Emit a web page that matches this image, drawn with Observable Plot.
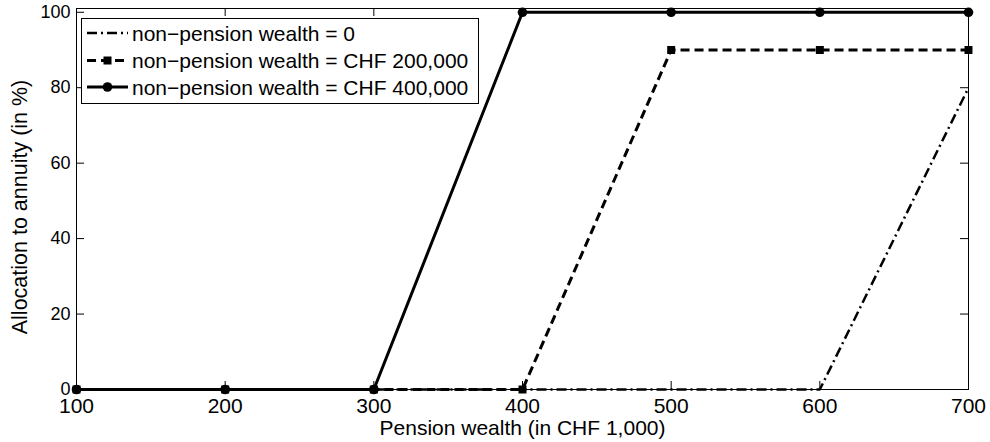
<!DOCTYPE html>
<html><head><meta charset="utf-8">
<script src="https://cdn.jsdelivr.net/npm/d3@7"></script>
<script src="https://cdn.jsdelivr.net/npm/@observablehq/plot@0.6"></script>
<style>
body{margin:0;background:#fff;font-family:Arial,"Liberation Sans",Helvetica,sans-serif;}
#wrap{position:relative;width:990px;height:442px;}
#legend{position:absolute;left:0;top:0;pointer-events:none;}
</style></head><body><div id="wrap"></div>
<script>
const pension = [100, 200, 300, 400, 500, 600, 700];
const allocNone = [0, 0, 0, 0, 0, 0, 80];
const alloc200k = [0, 0, 0, 0, 90, 90, 90];
const alloc400k = [0, 0, 0, 100, 100, 100, 100];
const seriesNames = ["non\u2212pension wealth = 0", "non\u2212pension wealth = CHF 200,000", "non\u2212pension wealth = CHF 400,000"];
const xTicks = [100, 200, 300, 400, 500, 600, 700];
const yTicks = [0, 20, 40, 60, 80, 100];
const xTitle = "Pension wealth (in CHF 1,000)";
const yTitle = "Allocation to annuity (in %)";

const W = 990, H = 442, mT = 8, mB = 53, mL = 76, mR = 22;
const plotH = H - mT - mB, plotW = W - mL - mR;
const rows = vals => pension.map((x, i) => ({x, y: vals[i]}));
const d0 = rows(allocNone), d1 = rows(alloc200k), d2 = rows(alloc400k);
const font = "Arial, 'Liberation Sans', Helvetica, sans-serif";

const chart = Plot.plot({
  width: W, height: H, marginTop: mT, marginBottom: mB, marginLeft: mL, marginRight: mR,
  style: {fontFamily: font, background: "white", color: "black", overflow: "visible"},
  x: {domain: [100, 700], label: null, axis: null},
  y: {domain: [0, 101], label: null, axis: null},
  marks: [
    Plot.line(d0, {x: "x", y: "y", stroke: "black", strokeWidth: 2.5, strokeDasharray: "10,4,2,4", strokeLinecap: "butt", strokeLinejoin: "miter"}),
    Plot.line(d1, {x: "x", y: "y", stroke: "black", strokeWidth: 3, strokeDasharray: "9,5", strokeLinecap: "butt", strokeLinejoin: "miter"}),
    Plot.dot(d1, {x: "x", y: "y", symbol: "square", r: 4.5, fill: "black"}),
    Plot.line(d2, {x: "x", y: "y", stroke: "black", strokeWidth: 3, strokeLinecap: "butt"}),
    Plot.dot(d2, {x: "x", y: "y", r: 4.8, fill: "black"}),
    Plot.frame({stroke: "black", strokeWidth: 1}),
    Plot.tickX(xTicks, {x: d => d, insetTop: plotH - 8, stroke: "black"}),
    Plot.tickX(xTicks, {x: d => d, insetBottom: plotH - 8, stroke: "black"}),
    Plot.tickY(yTicks, {y: d => d, insetRight: plotW - 8, stroke: "black"}),
    Plot.tickY(yTicks, {y: d => d, insetLeft: plotW - 8, stroke: "black"}),
    Plot.axisX({ticks: xTicks, tickSize: 0, tickPadding: 9, fontSize: 21, label: null}),
    Plot.axisY({ticks: yTicks, tickSize: 0, tickPadding: 6, fontSize: 18, label: null}),
    Plot.text([xTitle], {text: d => d, frameAnchor: "bottom", dy: 39, lineAnchor: "middle", textAnchor: "middle", fontSize: 21, fill: "black"}),
    Plot.text([yTitle], {text: d => d, frameAnchor: "left", dx: -56, dy: 8, rotate: -90, textAnchor: "middle", lineAnchor: "middle", fontSize: 21.5, fill: "black"})
  ]
});
const wrap = document.getElementById("wrap");
wrap.appendChild(chart);

// legend overlay
const ns = "http://www.w3.org/2000/svg";
const lg = document.createElementNS(ns, "svg");
lg.setAttribute("id", "legend");
lg.setAttribute("width", W); lg.setAttribute("height", H);
const sel = d3.select(lg);
sel.append("rect").attr("x", 81.5).attr("y", 18.5).attr("width", 397).attr("height", 85)
  .attr("fill", "white").attr("stroke", "black").attr("stroke-width", 1);
const rowY = [33, 60.5, 87];
const styles = [
  {w: 2.5, dash: "10,4,2,4", marker: null},
  {w: 3, dash: "9,5", marker: "square"},
  {w: 3, dash: null, marker: "circle"}
];
seriesNames.forEach((name, i) => {
  const y = rowY[i], s = styles[i];
  const ln = sel.append("line").attr("x1", 87).attr("x2", 128).attr("y1", y).attr("y2", y)
    .attr("stroke", "black").attr("stroke-width", s.w);
  if (s.dash) ln.attr("stroke-dasharray", s.dash);
  if (s.marker === "square") sel.append("rect").attr("x", 103.5).attr("y", y - 4).attr("width", 8).attr("height", 8).attr("fill", "black");
  if (s.marker === "circle") sel.append("circle").attr("cx", 107.5).attr("cy", y).attr("r", 4.8).attr("fill", "black");
  sel.append("text").attr("x", 132).attr("y", y + 7.5).attr("font-size", 21).attr("font-family", font)
    .attr("fill", "black").text(name);
});
wrap.appendChild(lg);
</script></body></html>
